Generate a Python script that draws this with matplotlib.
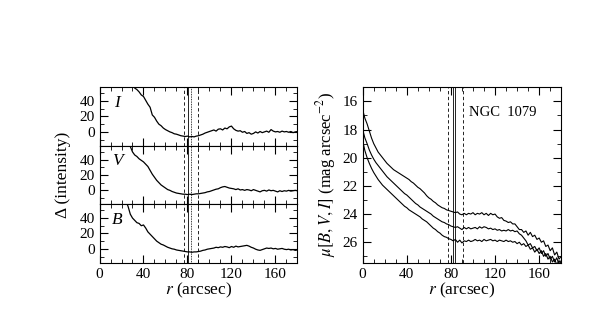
import numpy as np
import matplotlib
matplotlib.use("Agg")
import matplotlib.pyplot as plt
from matplotlib.ticker import MultipleLocator

plt.rcParams['font.family'] = ['Liberation Serif', 'DejaVu Serif']
plt.rcParams['mathtext.fontset'] = 'stix'

# residual profiles (left), sampled every 2 arcsec from the first radius
r_I = np.arange(28, 181, 2)
d_I = [64, 60, 57, 55, 52, 48, 46, 41, 36, 32,
       22, 19, 14, 10, 8, 5, 3, 1.5, 0, -1,
       -2.5, -3, -4, -5, -5.5, -6, -5.5, -6.5, -6, -6.5,
       -5.5, -5, -4, -3, -1.5, -0.5, 0.5, 1.5, 2.5, 1,
       3.5, 4, 2.5, 5, 4, 6.5, 7.5, 4, 2, 1,
       1.5, -0.5, 0.5, -2, -1, -3, -2, 0, -1.5, 0.5,
       -1, 0, 1, -0.5, 3, 1, 0, 0.5, -0.5, 1,
       0, 0.5, -0.5, 0.5, -1, 0, 0.5]

r_V = np.arange(26, 181, 2)
d_V = [62, 57, 50, 46, 44, 41, 39, 37, 34, 31,
       26, 21, 17, 13, 10, 7, 5, 3, 1, 0,
       -1.5, -2.5, -3.5, -4, -4.5, -5, -5, -5.5, -5, -5.5,
       -5, -4.5, -4.5, -4, -3.5, -3, -2, -1.5, -0.5, 0.5,
       1.5, 2, 3.5, 4.5, 5, 4, 3, 2.5, 2, 1,
       2, 0.5, 1, 0, 1, 0.5, -0.5, 1, 0, -1,
       -2, -0.5, 0, -1, 0.5, -0.5, 0, -1, -2, -0.5,
       -1.5, -0.5, -1, 0, -1, -0.5, 0, -0.5]

r_B = np.arange(24, 181, 2)
d_B = [62, 55, 45, 40, 37, 34, 33, 30, 31, 27,
       22, 19, 16, 13, 10, 8, 6, 5, 3.5, 2,
       1, 0, -0.5, -1.5, -2, -2.5, -3, -3.5, -4, -4,
       -4.5, -4, -4, -3.5, -3, -2, -1.5, -0.5, 0, 0.5,
       1, 2, 1.5, 2.5, 2, 3, 2.5, 1.5, 3, 2,
       3.5, 2.5, 3, 3.5, 4, 4.5, 3.5, 2, 1, -0.5,
       -1.5, -2, -1, 0, 1, 0.5, 1, 0, 0.5, -0.5,
       0, 0.5, -0.5, -1, -0.5, -1.5, -1, -2, -1.5]

# surface brightness profiles (right), every 2 arcsec from 0
r_mu = np.arange(0, 181, 2)
mu_I = [16.6, 17.2, 17.6, 18.1, 18.6, 19.0, 19.3, 19.6, 19.8, 20.0,
        20.2, 20.4, 20.55, 20.7, 20.85, 20.95, 21.05, 21.15, 21.25, 21.35,
        21.45, 21.55, 21.7, 21.8, 21.95, 22.1, 22.2, 22.35, 22.5, 22.7,
        22.85, 22.95, 23.1, 23.2, 23.35, 23.45, 23.55, 23.6, 23.7, 23.75,
        23.8, 23.85, 23.9, 23.85, 24.0, 24.05, 23.95, 24.05, 23.95, 24.0,
        23.9, 24.05, 23.95, 24.0, 23.9, 24.05, 23.95, 24.1, 23.95, 24.05,
        24.0, 24.2, 24.3, 24.25, 24.45, 24.5, 24.6, 24.55, 24.7, 24.7,
        24.9, 25.1, 25.1, 25.3, 25.2, 25.5, 25.3, 25.6, 25.5, 25.8,
        25.7, 26.0, 25.9, 26.3, 26.2, 26.6, 26.4, 26.9, 26.7, 27.2,
        27.0]
mu_V = [18.0, 18.6, 19.0, 19.45, 19.8, 20.1, 20.35, 20.55, 20.75, 20.95,
        21.15, 21.35, 21.5, 21.65, 21.8, 21.95, 22.1, 22.25, 22.4, 22.55,
        22.65, 22.8, 22.95, 23.1, 23.25, 23.35, 23.5, 23.6, 23.7, 23.8,
        23.9, 24.0, 24.15, 24.25, 24.35, 24.45, 24.55, 24.6, 24.7, 24.75,
        24.85, 24.9, 24.95, 24.9, 25.0, 25.1, 24.95, 25.05, 24.95, 25.05,
        25.0, 24.95, 25.05, 24.9, 25.0, 24.9, 24.95, 25.05, 25.0, 25.1,
        25.05, 25.15, 25.1, 25.2, 25.15, 25.2, 25.1, 25.2, 25.15, 25.25,
        25.2, 25.4, 25.5, 25.7, 25.9, 26.2, 26.1, 26.4, 26.3, 26.6,
        26.4, 26.8, 26.6, 27.0, 26.8, 27.2, 27.0, 27.4, 27.1, 27.6,
        27.3]
mu_B = [18.8, 19.5, 20.0, 20.4, 20.75, 21.05, 21.3, 21.55, 21.75, 21.95,
        22.1, 22.25, 22.4, 22.55, 22.7, 22.85, 23.0, 23.15, 23.3, 23.45,
        23.55, 23.7, 23.8, 23.9, 24.0, 24.1, 24.2, 24.35, 24.45, 24.55,
        24.7, 24.85, 25.0, 25.1, 25.25, 25.35, 25.5, 25.6, 25.65, 25.75,
        25.8, 25.9, 25.8, 26.0, 25.85, 26.05, 25.9, 25.95, 25.85, 25.95,
        25.9, 25.8, 25.9, 25.85, 25.95, 25.8, 25.9, 25.85, 25.8, 25.9,
        25.85, 25.95, 25.85, 25.9, 25.95, 25.85, 25.95, 25.9, 26.0, 25.95,
        26.1, 26.0, 26.2, 26.1, 26.3, 26.2, 26.5, 26.4, 26.7, 26.5,
        26.8, 26.6, 27.0, 26.8, 27.2, 27.0, 27.4, 27.2, 27.6, 27.3,
        27.6]

band_names = ['I', 'V', 'B']
FS = 11      # tick labels
LFS = 12.5   # axis labels

fig = plt.figure(figsize=(5.98, 3.18), dpi=100)

left, bottom, width, height = 0.1664, 0.174, 0.331, 0.5516
ph = height / 3
panels = [(r_I, d_I), (r_V, d_V), (r_B, d_B)]
for k, (rr, dd) in enumerate(panels):
    ax = fig.add_axes([left, bottom + (2 - k) * ph, width, ph])
    ax.plot(rr, dd, color='black', lw=0.9)
    ax.set_xlim(0, 180)
    ax.set_ylim(-18, 58)
    ax.axvline(76.5, color='black', lw=0.6, ls=(0, (4, 3)))
    ax.axvline(80.5, color='black', lw=0.6)
    ax.axvline(83.5, color='black', lw=0.6, ls=(0, (1, 1)))
    ax.axvline(90, color='black', lw=0.6, ls=(0, (4, 3)))
    ax.set_yticks([0, 20, 40])
    ax.yaxis.set_minor_locator(MultipleLocator(10))
    ax.xaxis.set_major_locator(MultipleLocator(40))
    ax.xaxis.set_minor_locator(MultipleLocator(10))
    ax.tick_params(which='both', direction='in', top=True, right=True, labelsize=FS)
    ax.tick_params(which='major', length=5.5, width=0.8)
    ax.tick_params(which='minor', length=2.8, width=0.6)
    ax.text(16, 38, band_names[k], fontsize=LFS, style='italic', ha='center', va='center')
    if k < 2:
        ax.tick_params(labelbottom=False)
    else:
        ax.set_xlabel(r'$r$ (arcsec)', fontsize=LFS, labelpad=0)
    if k == 1:
        ax.set_ylabel('Δ (intensity)', fontsize=LFS, labelpad=6)

ax2 = fig.add_axes([0.6065, bottom, 0.332, height])
ax2.plot(r_mu, mu_I, color='black', lw=0.8)
ax2.plot(r_mu, mu_V, color='black', lw=0.8)
ax2.plot(r_mu, mu_B, color='black', lw=0.8)
ax2.set_xlim(0, 180)
ax2.set_ylim(27.45, 15)
ax2.axvline(77, color='black', lw=0.6, ls=(0, (4, 3)))
ax2.axvline(82, color='black', lw=0.6)
ax2.axvline(84, color='black', lw=0.6)
ax2.axvline(90.5, color='black', lw=0.6, ls=(0, (4, 3)))
ax2.xaxis.set_major_locator(MultipleLocator(40))
ax2.xaxis.set_minor_locator(MultipleLocator(10))
ax2.yaxis.set_major_locator(MultipleLocator(2))
ax2.yaxis.set_minor_locator(MultipleLocator(1))
ax2.tick_params(which='both', direction='in', top=True, right=True, labelsize=FS)
ax2.tick_params(which='major', length=5.5, width=0.8)
ax2.tick_params(which='minor', length=2.8, width=0.6)
ax2.text(96, 16.8, 'NGC  1079', fontsize=10.5, ha='left', va='center')
ax2.set_xlabel(r'$r$ (arcsec)', fontsize=LFS, labelpad=0)
ax2.set_ylabel(r'$\mu[B,V,I]$ (mag arcsec$^{-2}$)', fontsize=LFS - 0.5, labelpad=3)

fig.savefig('out.png', dpi=100)
